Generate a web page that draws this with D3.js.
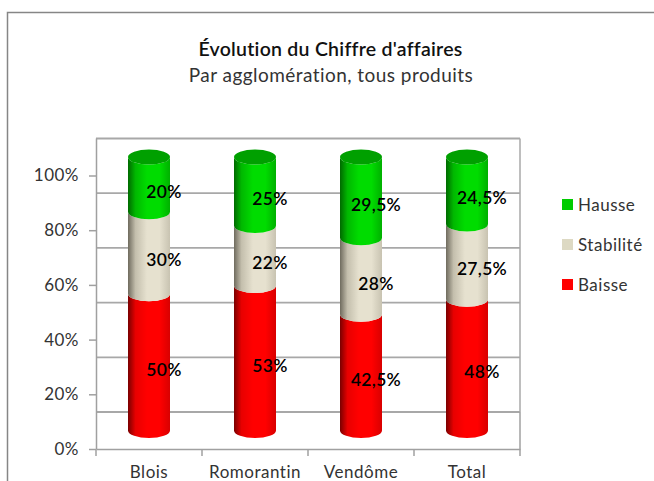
<!DOCTYPE html>
<html>
<head>
<meta charset="utf-8">
<script src="https://cdn.jsdelivr.net/npm/d3@7"></script>
<style>
  html, body { margin: 0; padding: 0; background: #fff; }
  text { font-family: Lato, "Open Sans", sans-serif; }
</style>
</head>
<body>
<div id="chart"></div>
<script>
const categories = ["Blois", "Romorantin", "Vendôme", "Total"];
const seriesNames = ["Baisse", "Stabilité", "Hausse"];
const baisse = [50, 53, 42.5, 48];
const stabilite = [30, 22, 28, 27.5];
const hausse = [20, 25, 29.5, 24.5];
const yTicks = [0, 20, 40, 60, 80, 100];

const width = 654, height = 481,
  depth = 37, barWidth = 42, ry = 7.5,
  labelDx = 15, labelDy = 7.5;

const palette = {
  "Baisse": { swatch: "#ff0000", top: "#e00000", stops: ["#7a0000", "#e80000", "#ff0000", "#ff0000", "#d80000"] },
  "Stabilité": { swatch: "#ddd9c3", top: "#ddd9c3", stops: ["#6f6b5e", "#c4bfad", "#e6e1cf", "#e6e1cf", "#c8c3b1"] },
  "Hausse": { swatch: "#00cc00", top: "#00a000", stops: ["#006a00", "#00b800", "#00dc00", "#00dc00", "#00b000"] }
};

const x = d3.scaleBand().domain(categories).range([96, 520]);
const y = d3.scaleLinear().domain([0, 100]).range([449, 175.5]);

const svg = d3.select("#chart").append("svg")
  .attr("width", width).attr("height", height)
  .style("display", "block");

const defs = svg.append("defs");
seriesNames.forEach((name, i) => {
  const grad = defs.append("linearGradient").attr("id", "grad" + i);
  grad.selectAll("stop").data(palette[name].stops).enter().append("stop")
    .attr("offset", (d, j) => [0, 0.18, 0.45, 0.75, 1][j])
    .attr("stop-color", d => d);
});

// chart frame, runs off the right and bottom of the picture
svg.append("rect")
  .attr("x", 7.5).attr("y", 12.5)
  .attr("width", width + 20).attr("height", height + 20)
  .attr("fill", "#fff").attr("stroke", "#868686").attr("stroke-width", 1.5);

svg.append("text").attr("x", 330.5).attr("y", 56)
  .attr("text-anchor", "middle").attr("font-size", 19.5).attr("font-weight", 600)
  .attr("letter-spacing", 0.25)
  .attr("fill", "#111").text("Évolution du Chiffre d'affaires");
svg.append("text").attr("x", 331).attr("y", 82)
  .attr("text-anchor", "middle").attr("font-size", 19)
  .attr("letter-spacing", 0.45)
  .attr("fill", "#333").text("Par agglomération, tous produits");

// back wall gridlines
svg.append("g").selectAll("line")
  .data(yTicks).enter().append("line")
  .attr("x1", x.range()[0]).attr("x2", x.range()[1])
  .attr("y1", d => y(d) - depth).attr("y2", d => y(d) - depth)
  .attr("stroke", "#a8a8a8").attr("stroke-width", 1.8);

// right edge of the wall and floor
svg.append("path")
  .attr("d", d3.line()([
    [x.range()[1], y(100) - depth],
    [x.range()[1], y(0) - depth]
  ]))
  .attr("stroke", "#a8a8a8").attr("stroke-width", 1.5).attr("fill", "none");

const yAxis = svg.append("g")
  .attr("transform", `translate(${x.range()[0]},0)`)
  .call(d3.axisLeft(y).tickValues(yTicks).tickFormat(d => d + "%").tickSize(7).tickSizeOuter(0));
yAxis.select(".domain").attr("d", `M0.5,${y(0)}V${y(100) - depth}`);

const xAxis = svg.append("g")
  .attr("transform", `translate(0,${y(0)})`)
  .call(d3.axisBottom(x).tickSize(0));
xAxis.selectAll(".tick line").remove();
xAxis.selectAll(".tick text").attr("y", 29).attr("dy", 0);
xAxis.selectAll(".sep").data(categories.concat([""])).enter().append("line")
  .attr("class", "sep")
  .attr("x1", (d, i) => x.range()[0] + i * x.step())
  .attr("x2", (d, i) => x.range()[0] + i * x.step())
  .attr("y1", (d, i) => i === categories.length ? depth * -1 : 0).attr("y2", 7);

[yAxis, xAxis].forEach(ax => {
  ax.selectAll(".domain, line").attr("stroke", "#a0a0a0").attr("stroke-width", 1.5);
  ax.selectAll("text").attr("font-size", 17).attr("fill", "#333")
    .attr("letter-spacing", 0.5)
    .style("font-family", "Lato");
});
yAxis.selectAll("text").attr("x", -17);

// stacked cylinders
const rows = categories.map((c, i) => ({ cat: c, Baisse: baisse[i], "Stabilité": stabilite[i], Hausse: hausse[i] }));
const stacked = d3.stack().keys(seriesNames)(rows);
const barCy = v => y(v) - depth / 2;

const cylinder = (x0, yTop, yBottom) => {
  const x1 = x0 + barWidth;
  return `M${x0},${yTop}V${yBottom}A${barWidth / 2},${ry} 0 0 0 ${x1},${yBottom}V${yTop}A${barWidth / 2},${ry} 0 0 1 ${x0},${yTop}Z`;
};

const layers = svg.append("g").selectAll("g")
  .data(stacked).enter().append("g");

layers.selectAll("path")
  .data(d => d.map(p => ({ p, key: d.key, index: d.index }))).enter().append("path")
  .attr("d", d => cylinder(x(d.p.data.cat) + x.bandwidth() / 2 - barWidth / 2, barCy(d.p[1]), barCy(d.p[0])))
  .attr("fill", d => `url(#grad${d.index})`);

// lid of the top segment
svg.append("g").selectAll("ellipse")
  .data(stacked[2]).enter().append("ellipse")
  .attr("cx", d => x(d.data.cat) + x.bandwidth() / 2)
  .attr("cy", d => barCy(d[1]))
  .attr("rx", barWidth / 2).attr("ry", ry)
  .attr("fill", palette["Hausse"].top);

// value labels sit right of centre, as in the original
svg.append("g").selectAll("g")
  .data(stacked).enter().append("g")
  .selectAll("text")
  .data(d => d).enter().append("text")
  .attr("x", d => x(d.data.cat) + x.bandwidth() / 2 + labelDx)
  .attr("y", d => barCy((d[0] + d[1]) / 2) + labelDy)
  .attr("dy", "0.35em")
  .attr("text-anchor", "middle").attr("font-size", 17.5).attr("font-weight", 600)
  .attr("letter-spacing", 0.3)
  .attr("fill", "#000")
  .text(d => String(d[1] - d[0]).replace(".", ",") + "%");

// legend, top entry first
const legendY = d3.scalePoint().domain(seriesNames.slice().reverse()).range([205, 285]);
const legend = svg.append("g").selectAll("g")
  .data(seriesNames).enter().append("g")
  .attr("transform", d => `translate(562,${legendY(d)})`);
legend.append("rect").attr("y", -6).attr("width", 11).attr("height", 11)
  .attr("fill", d => palette[d].swatch);
legend.append("text").attr("x", 16).attr("dy", "0.35em")
  .attr("font-size", 17).attr("letter-spacing", 0.5).attr("fill", "#333").text(d => d);
</script>
</body>
</html>
